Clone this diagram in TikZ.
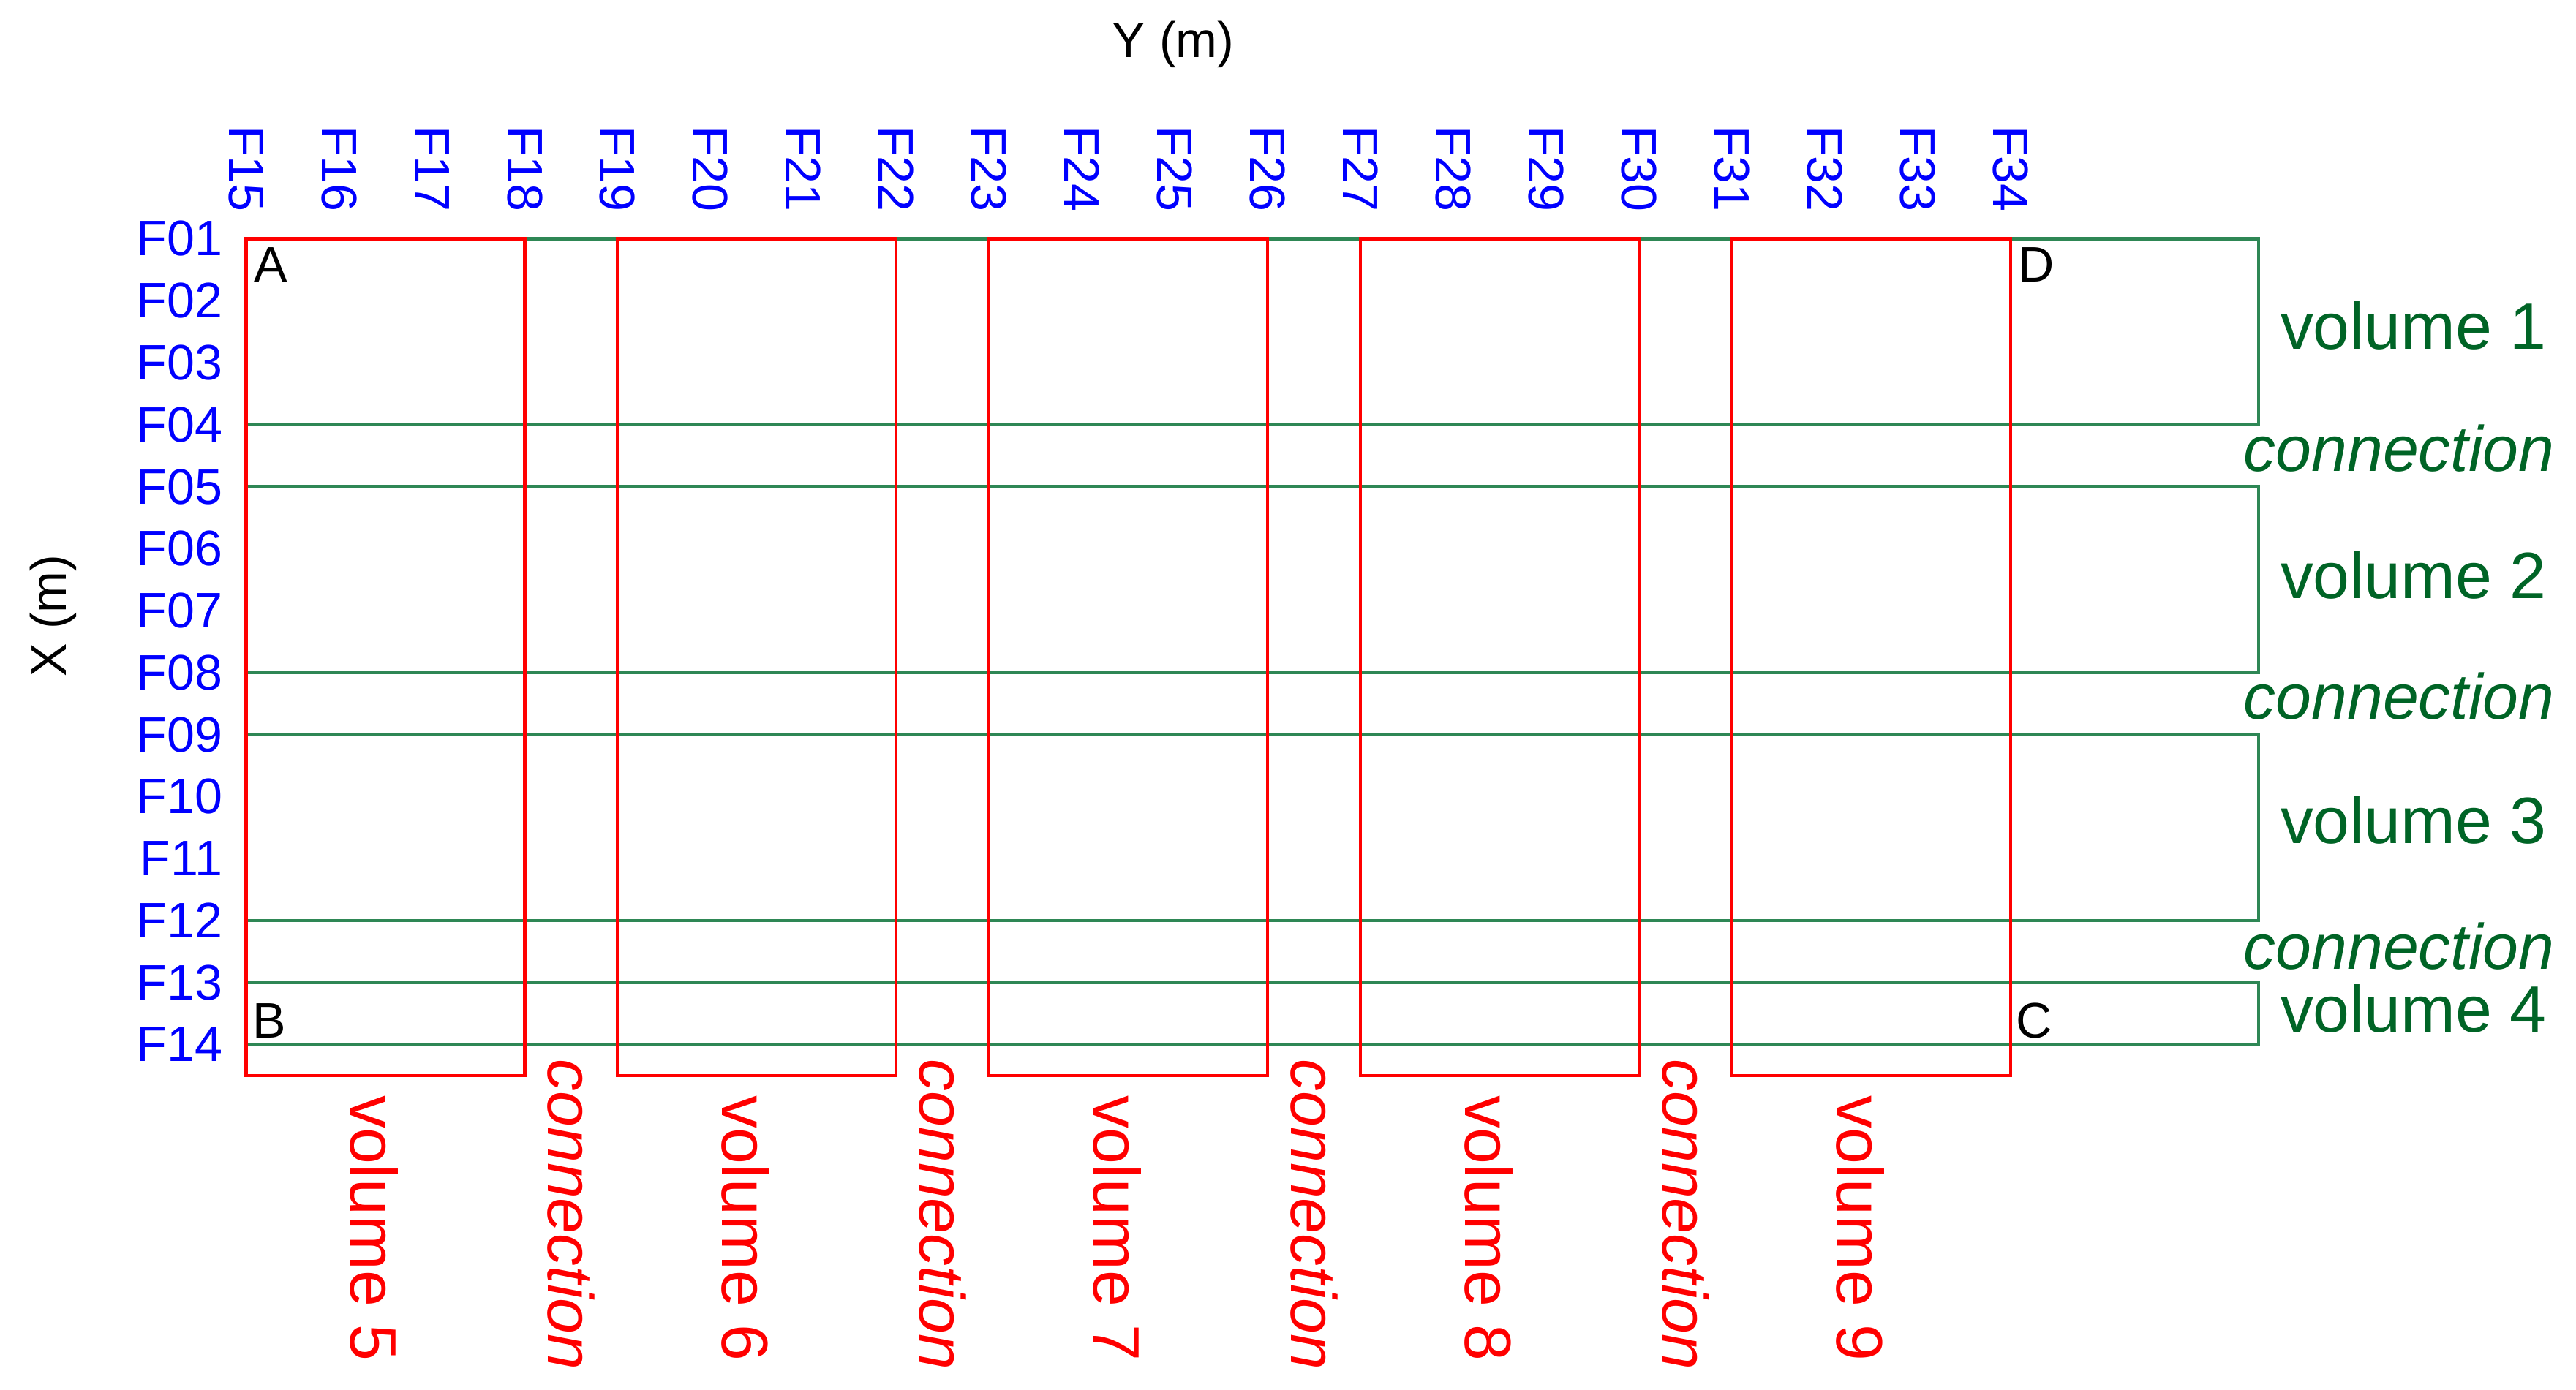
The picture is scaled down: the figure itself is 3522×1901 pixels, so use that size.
\documentclass[tikz,border=0pt]{standalone}
\usepackage{fontspec}
\setmainfont{Liberation Sans}
\definecolor{vgreen}{RGB}{0,100,38}
\definecolor{lgreen}{RGB}{46,135,85}
\definecolor{vred}{RGB}{255,0,0}
\definecolor{vblue}{RGB}{0,0,255}
\tikzset{
  axlbl/.style={font=\fontsize{19.4pt}{20pt}\selectfont, inner sep=0pt, text=vblue},
  titlelbl/.style={font=\fontsize{19.4pt}{20pt}\selectfont, inner sep=0pt, text=black},
  cornerlbl/.style={font=\fontsize{19.4pt}{20pt}\selectfont, inner sep=0pt, text=black},
  gvol/.style={font=\fontsize{25.5pt}{26pt}\selectfont, inner sep=0pt, text=vgreen},
  gcon/.style={font=\fontsize{25pt}{26pt}\selectfont\itshape, inner sep=0pt, text=vgreen},
  rvol/.style={font=\fontsize{25.5pt}{26pt}\selectfont, inner sep=0pt, text=vred, rotate=-90},
  rcon/.style={font=\fontsize{25pt}{26pt}\selectfont\itshape, inner sep=0pt, text=vred, rotate=-90},
  greenbox/.style={draw=lgreen, line width=1.3pt},
  redbox/.style={draw=vred, line width=1.2pt}
}
\begin{document}
\begin{tikzpicture}[x=0.01cm,y=-0.01cm]
\useasboundingbox[fill=white] (0,0) rectangle (3522,1901);
% green horizontal volumes
\draw[greenbox] (336.6,326.5) rectangle (3088,580.8);
\draw[greenbox] (336.6,665.6) rectangle (3088,919.9);
\draw[greenbox] (336.6,1004.7) rectangle (3088,1259.0);
\draw[greenbox] (336.6,1343.7) rectangle (3088,1428.5);
% red vertical volumes
\foreach \k in {0,...,4} {
  \draw[redbox] ({336.6+507.84*\k},326.5) rectangle ({717.5+507.84*\k},1471);
}
% axis titles
\node[titlelbl] (ytitle) at (1604,61) {Y (m)};
\node[titlelbl, rotate=90] (xtitle) at (73,842) {X (m)};
% column labels
\foreach \j in {15,...,34} {
  \node[axlbl, rotate=-90] (c\j) at ({336.6+126.96*(\j-15)},231) {F\j};
}
% row labels
\foreach \i/\t in {1/01,2/02,3/03,4/04,5/05,6/06,7/07,8/08,9/09,10/10,11/11,12/12,13/13,14/14} {
  \node[axlbl, anchor=east] (r\i) at (305,{326.5+84.77*(\i-1)}) {F\t};
}
% corner letters
\node[cornerlbl] (A) at (370,362) {A};
\node[cornerlbl] (D) at (2784,362) {D};
\node[cornerlbl] (B) at (368,1396) {B};
\node[cornerlbl] (C) at (2781,1396) {C};
% green labels
\node[gvol] (v1) at (3300,445) {volume 1};
\node[gcon] (h1) at (3280,613) {connection};
\node[gvol] (v2) at (3300,786) {volume 2};
\node[gcon] (h2) at (3280,952) {connection};
\node[gvol] (v3) at (3300,1121) {volume 3};
\node[gcon] (h3) at (3280,1294) {connection};
\node[gvol] (v4) at (3300,1379) {volume 4};
% red labels
\foreach \k/\n in {0/5,1/6,2/7,3/8,4/9} {
  \node[rvol] (v\n) at ({512+507.84*\k},1680) {volume \n};
}
\foreach \k in {0,...,3} {
  \node[rcon] (vc\k) at ({781+507.84*\k},1661) {connection};
}
\end{tikzpicture}
\end{document}
